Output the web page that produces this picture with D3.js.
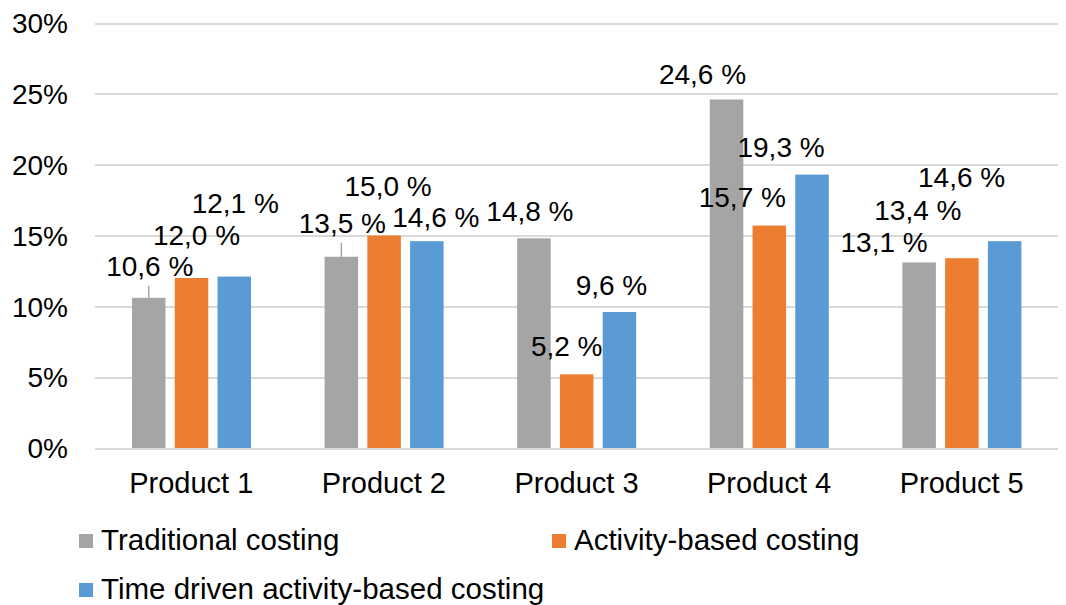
<!DOCTYPE html>
<meta charset="utf-8">
<style>
body {
  margin: 0;
  background-color: #ffffff;
}
svg text {
  font-family: "Liberation Sans", Arial, sans-serif;
  font-size: 28px;
  fill: #000;
}
.grid line {
  stroke: #D9D9D9;
  stroke-width: 2px;
  shape-rendering: crispEdges;
}
.grid path {
  display: none;
}
</style>
<svg width="1066" height="605"></svg>
<script src="https://d3js.org/d3.v7.min.js"></script>
<script>
// data
var products = ["Product 1", "Product 2", "Product 3", "Product 4", "Product 5"];
var series = ["Traditional costing", "Activity-based costing", "Time driven activity-based costing"];
var traditional = [10.6, 13.5, 14.8, 24.6, 13.1];
var activityBased = [12.0, 15.0, 5.2, 15.7, 13.4];
var timeDriven = [12.1, 14.6, 9.6, 19.3, 14.6];
var yTicks = [0, 5, 10, 15, 20, 25, 30];
var colors = ["#A5A5A5", "#ED7D31", "#5B9BD5"];

// label nudges (px from top centre of each bar), as placed in the original chart
var nudgeTraditional = [[1, -22], [1, -24], [-4, -17], [-24, -16], [-35, -10]];
var nudgeActivity = [[5, -33], [4, -40], [-10, -18], [-27, -19], [-44, -38]];
var nudgeTimeDriven = [[1, -64], [9, -14], [-8, -17], [-31, -18], [-43, -54]];
var leaderTraditional = [true, true, false, false, false];

var svg = d3.select("svg"),
    margin = {top: 23, right: 8, bottom: 157, left: 95},
    width = +svg.attr("width") - margin.left - margin.right,
    height = +svg.attr("height") - margin.top - margin.bottom;

var g = svg.append("g")
    .attr("transform", "translate(" + margin.left + "," + margin.top + ")");

var x0 = d3.scaleBand().domain(products).range([0, width]);
var x1 = d3.scaleBand().domain(series)
    .range([x0.bandwidth() * 0.192, x0.bandwidth() * 0.81])
    .paddingInner(0.216);
var y = d3.scaleLinear().domain([0, 30]).range([height, 0]);

var values = [traditional, activityBased, timeDriven];
var nudges = [nudgeTraditional, nudgeActivity, nudgeTimeDriven];

// gridlines + y labels
var yAxis = g.append("g")
    .attr("class", "grid")
    .call(d3.axisLeft(y).tickValues(yTicks).tickSize(-width).tickPadding(27)
      .tickFormat(function(d) { return d + "%"; }));
yAxis.selectAll("text")
    .style("font-size", "28px")
    .attr("dy", "0.35em");

var rows = [];
products.forEach(function(p, i) {
  series.forEach(function(s, j) {
    rows.push({product: p, series: s, si: j, value: values[j][i],
               nudge: nudges[j][i], leader: j === 0 && leaderTraditional[i]});
  });
});

g.selectAll(".bar")
  .data(rows)
  .enter().append("rect")
    .attr("class", "bar")
    .attr("x", function(d) { return x0(d.product) + x1(d.series); })
    .attr("width", x1.bandwidth())
    .attr("y", function(d) { return y(d.value); })
    .attr("height", function(d) { return height - y(d.value); })
    .attr("fill", function(d) { return colors[d.si]; });

// leader lines
g.selectAll(".leader")
  .data(rows.filter(function(d) { return d.leader; }))
  .enter().append("line")
    .attr("class", "leader")
    .attr("x1", function(d) { return x0(d.product) + x1(d.series) + x1.bandwidth() / 2; })
    .attr("x2", function(d) { return x0(d.product) + x1(d.series) + x1.bandwidth() / 2; })
    .attr("y1", function(d) { return y(d.value) + d.nudge[1] + 10; })
    .attr("y2", function(d) { return y(d.value); })
    .attr("stroke", "#A5A5A5")
    .attr("stroke-width", 1.5);

g.selectAll(".label")
  .data(rows)
  .enter().append("text")
    .attr("class", "label")
    .attr("text-anchor", "middle")
    .attr("x", function(d) { return x0(d.product) + x1(d.series) + x1.bandwidth() / 2 + d.nudge[0]; })
    .attr("y", function(d) { return y(d.value) + d.nudge[1]; })
    .text(function(d) { return d.value.toFixed(1).replace(".", ",") + " %"; });

// category labels
g.selectAll(".cat")
  .data(products)
  .enter().append("text")
    .attr("class", "cat")
    .attr("text-anchor", "middle")
    .style("font-size", "29px")
    .attr("x", function(d) { return x0(d) + x0.bandwidth() / 2; })
    .attr("y", height + 45)
    .text(function(d) { return d; });

// legend
var legendPos = [[79, 534], [552, 534], [79, 583]];
var legend = svg.selectAll(".legend")
  .data(series)
  .enter().append("g")
    .attr("class", "legend")
    .attr("transform", function(d, i) { return "translate(" + legendPos[i][0] + "," + legendPos[i][1] + ")"; });
legend.append("rect")
    .attr("width", 14)
    .attr("height", 14)
    .attr("fill", function(d, i) { return colors[i]; });
legend.append("text")
    .attr("x", 22)
    .attr("y", 16)
    .style("font-size", "29.5px")
    .text(function(d) { return d; });
</script>
